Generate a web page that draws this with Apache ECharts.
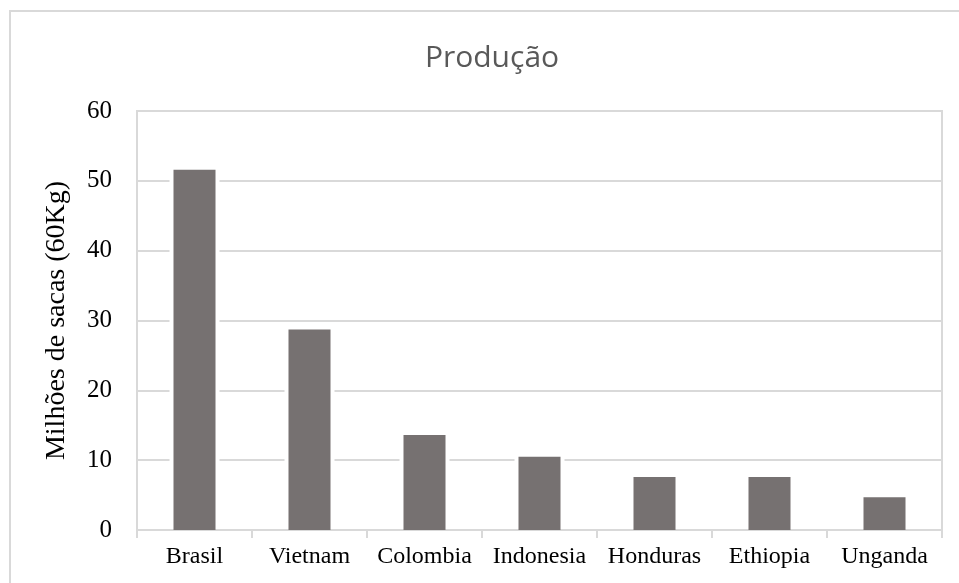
<!DOCTYPE html>
<html>
<head>
<meta charset="utf-8">
<title>Produção</title>
<script src="https://cdn.jsdelivr.net/npm/echarts@6/dist/echarts.min.js"></script>
<style>
  html, body { margin: 0; padding: 0; background: #fff; }
  #chart { width: 959px; height: 583px; }
</style>
</head>
<body>
<div id="chart"></div>
<script>
// Coffee production by country, millions of 60 kg bags
const countries = ['Brasil', 'Vietnam', 'Colombia', 'Indonesia', 'Honduras', 'Ethiopia', 'Unganda'];
const production = [51.6, 28.7, 13.6, 10.5, 7.6, 7.6, 4.7];
const yTicks = [0, 10, 20, 30, 40, 50, 60];

const BAR_W = 42;
const GRID_COLOR = '#d9d9d9';
const SERIF = '"Liberation Serif", "Times New Roman", serif';

const chart = echarts.init(document.getElementById('chart'), null, { renderer: 'canvas' });

chart.setOption({
  backgroundColor: '#ffffff',
  animation: false,
  graphic: [{
    type: 'rect',
    silent: true,
    z: -10,
    shape: { x: 10, y: 11, width: 1000, height: 700 },
    style: { fill: 'none', stroke: GRID_COLOR, lineWidth: 2 }
  }],
  title: {
    text: 'Produção',
    left: 492,
    top: 43,
    padding: 0,
    textAlign: 'center',
    textStyle: {
      fontFamily: '"Open Sans", sans-serif',
      fontSize: 30,
      fontWeight: 'normal',
      color: '#595959'
    }
  },
  grid: {
    left: 137,
    right: 17,
    top: 111,
    bottom: 53,
    show: true,
    borderColor: GRID_COLOR,
    borderWidth: 2
  },
  xAxis: {
    type: 'category',
    data: countries,
    boundaryGap: true,
    axisLine: { show: true, lineStyle: { color: GRID_COLOR, width: 2 } },
    axisTick: { show: true, length: 8, lineStyle: { color: GRID_COLOR, width: 2 } },
    axisLabel: {
      interval: 0,
      margin: 15,
      fontFamily: SERIF,
      fontSize: 24,
      color: '#000'
    },
    splitLine: { show: false }
  },
  yAxis: {
    type: 'value',
    min: yTicks[0],
    max: yTicks[yTicks.length - 1],
    interval: yTicks[1] - yTicks[0],
    name: 'Milhões de sacas (60Kg)',
    nameLocation: 'middle',
    nameGap: 66,
    nameTextStyle: {
      fontFamily: SERIF,
      fontSize: 28,
      color: '#000'
    },
    axisLine: { show: true, lineStyle: { color: GRID_COLOR, width: 2 } },
    axisTick: { show: false },
    axisLabel: {
      margin: 25,
      fontFamily: SERIF,
      fontSize: 25,
      color: '#000'
    },
    splitLine: { show: true, lineStyle: { color: GRID_COLOR, width: 2 } }
  },
  series: [
    {
      // white gap around each bar that interrupts the gridlines
      type: 'custom',
      silent: true,
      z: 1,
      data: production.map((v, i) => [i, v]),
      renderItem: function (params, api) {
        const top = api.coord([api.value(0), api.value(1)]);
        const base = api.coord([api.value(0), 0]);
        const w = BAR_W + 8;
        return {
          type: 'rect',
          shape: { x: top[0] - w / 2, y: top[1] - 4, width: w, height: base[1] - top[1] + 3 },
          style: { fill: '#ffffff' }
        };
      }
    },
    {
      type: 'bar',
      z: 2,
      data: production,
      barWidth: BAR_W,
      itemStyle: { color: '#767171' }
    }
  ]
});
</script>
</body>
</html>
